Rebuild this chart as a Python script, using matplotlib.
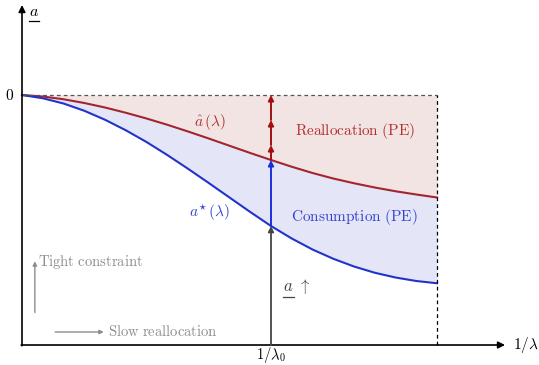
import matplotlib
matplotlib.use("Agg")
import matplotlib.pyplot as plt

plt.rcParams['mathtext.fontset'] = 'cm'

# 1/lambda grid and the two thresholds (0 = top of the box, -1 = the x axis)
inv_lam = [0, 0.05, 0.1, 0.15, 0.2, 0.25, 0.3, 0.35, 0.4, 0.45, 0.5,
           0.55, 0.6, 0.65, 0.7, 0.75, 0.8, 0.85, 0.9, 0.95, 1.0]
a_hat = [0, -0.006, -0.017, -0.032, -0.050, -0.071, -0.094, -0.119, -0.146, -0.174, -0.203,
         -0.232, -0.260, -0.287, -0.312, -0.334, -0.353, -0.370, -0.385, -0.398, -0.410]
a_star = [0, -0.013, -0.034, -0.063, -0.099, -0.141, -0.188, -0.240, -0.295, -0.352, -0.410,
          -0.468, -0.524, -0.574, -0.618, -0.655, -0.686, -0.711, -0.730, -0.744, -0.753]
i0 = 12          # index of 1/lambda_0
red_heads = [-0.20, -0.10, 0.0]

red = '#a3262e'
blue = '#2233cc'
grey = '#8c8c8c'

fig = plt.figure(figsize=(5.39, 3.65), dpi=100)
ax = fig.add_axes([0, 0, 1, 1])
ax.set_xlim(-22 / 415, 517 / 415)
ax.set_ylim(-270 / 250, 95 / 250)
ax.axis('off')

ax.fill_between(inv_lam, a_hat, 0, color='#f3e4e4', lw=0)
ax.fill_between(inv_lam, a_star, a_hat, color='#e4e6f8', lw=0)
ax.plot(inv_lam, a_hat, color=red, lw=1.5)
ax.plot(inv_lam, a_star, color=blue, lw=1.5)

# box
ax.plot([0, 1], [0, 0], color='#555555', lw=0.9, ls=(0, (3, 2.5)))
ax.plot([1, 1], [-1, 0], color='black', lw=0.9, ls=(0, (3, 2.5)))

# axes with arrows
ax.annotate('', xy=(1.164, -1), xytext=(-0.002, -1),
            arrowprops=dict(arrowstyle='-|>', color='black', lw=1.2,
                            mutation_scale=10, shrinkA=0, shrinkB=0))
ax.annotate('', xy=(0, 0.36), xytext=(0, -1.003),
            arrowprops=dict(arrowstyle='-|>', color='black', lw=1.2,
                            mutation_scale=10, shrinkA=0, shrinkB=0))

# vertical arrows at 1/lambda_0
x0 = inv_lam[i0]
def varrow(y1, y2, c, lw=1.4):
    ax.annotate('', xy=(x0, y2), xytext=(x0, y1),
                arrowprops=dict(arrowstyle='-|>', color=c, lw=lw,
                                mutation_scale=8, shrinkA=0, shrinkB=0))

varrow(-1, a_star[i0], '#444444', 1.3)
varrow(a_star[i0], a_hat[i0], '#1a2ee0')
prev = a_hat[i0]
for h in red_heads:
    varrow(prev, h, '#a01010')
    prev = h

underlined = []

# labels
ax.text(-0.02, 0, '$0$', ha='right', va='center', fontsize=11)
underlined.append((ax.text(0.018, 0.335, r'$a$', ha='left', va='center', fontsize=11.5), 'black'))
ax.text(1.183, -1, r'$1/\lambda$', ha='left', va='center', fontsize=11)
ax.text(x0, -1.04, r'$1/\lambda_0$', ha='center', va='center', fontsize=10.5)
ax.text(0.453, -0.108, r'$\hat{a}\,(\lambda)$', color='#b03030', ha='center', va='center', fontsize=11)
ax.text(0.453, -0.472, r'$a^{\star}\,(\lambda)$', color='#3344cc', ha='center', va='center', fontsize=11)
ax.text(0.802, -0.144, r'$\mathrm{Reallocation\ (PE)}$', color='#b03030', ha='center', va='center', fontsize=11)
ax.text(0.802, -0.488, r'$\mathrm{Consumption\ (PE)}$', color='#3344cc', ha='center', va='center', fontsize=11)
underlined.append((ax.text(0.63, -0.765, r'$a$', color='#444444', ha='left', va='center', fontsize=12), '#444444'))
ax.text(0.666, -0.765, r'$\uparrow$', color='#444444', ha='left', va='center', fontsize=12)

ax.annotate('', xy=(0.031, -0.665), xytext=(0.031, -0.87),
            arrowprops=dict(arrowstyle='-|>', color=grey, lw=1.0,
                            mutation_scale=6, shrinkA=0, shrinkB=0))
ax.text(0.039, -0.668, r'$\mathrm{Tight\ constraint}$', color=grey, ha='left', va='center', fontsize=10.5)
ax.annotate('', xy=(0.197, -0.948), xytext=(0.08, -0.948),
            arrowprops=dict(arrowstyle='-|>', color=grey, lw=1.0,
                            mutation_scale=6, shrinkA=0, shrinkB=0))
ax.text(0.207, -0.948, r'$\mathrm{Slow\ reallocation}$', color=grey, ha='left', va='center', fontsize=10.5)

# underline the "a" labels (mathtext has no \underline)
fig.canvas.draw()
inv = ax.transData.inverted()
for t, c in underlined:
    bb = t.get_window_extent()
    (xa, ya), (xb, _) = inv.transform([(bb.x0, bb.y0 - 2), (bb.x1, bb.y0)])
    ax.plot([xa, xb], [ya, ya], color=c, lw=0.9)

fig.savefig('out.png', dpi=100)
